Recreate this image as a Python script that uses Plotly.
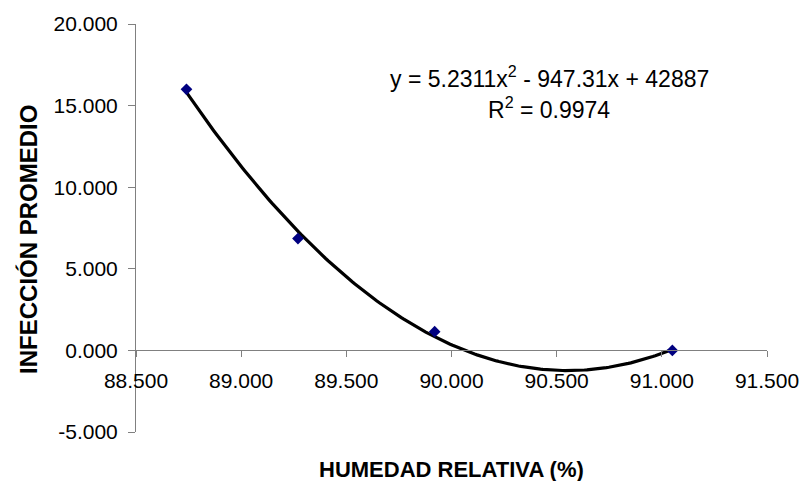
import numpy as np
import plotly.graph_objects as go

# Humedad relativa (%) vs. infección promedio
humedad = [88.74, 89.27, 89.92, 91.05]
infeccion = [16.0, 6.85, 1.15, 0.0]

x_ticks = [88.5, 89.0, 89.5, 90.0, 90.5, 91.0, 91.5]
y_ticks = [-5, 0, 5, 10, 15, 20]
x_ticktext = [f"{v:.3f}" for v in x_ticks]
y_ticktext = [f"{v:.3f}" for v in y_ticks]

eq_line1 = "y = 5.2311x<sup>2</sup> - 947.31x + 42887"
eq_line2 = "R<sup>2</sup> = 0.9974"

# Second-order polynomial trendline through the data
coef = np.polyfit(humedad, infeccion, 2)
xs = np.linspace(min(humedad), max(humedad), 200)
ys = np.polyval(coef, xs)

W, H = 811, 481
L, R, T, B = 136, 38, 20, 49
pw, ph = W - L - R, H - T - B


def px(xp):
    return (xp - L) / pw


def py(yp):
    return (H - B - yp) / ph


FONT = "Liberation Sans, Arial, sans-serif"


def label(text, xp, yp, size, angle=0):
    return dict(text=text, xref="paper", yref="paper",
                x=px(xp), y=py(yp), xanchor="center", yanchor="middle",
                showarrow=False, textangle=angle,
                font=dict(size=size, family=FONT, color="black"))


fig = go.Figure()
fig.add_trace(go.Scatter(x=xs, y=ys, mode="lines",
                         line=dict(color="black", width=3.2),
                         hoverinfo="skip", showlegend=False))
fig.add_trace(go.Scatter(x=humedad, y=infeccion, mode="markers",
                         marker=dict(symbol="diamond", size=9, color="#000080",
                                     line=dict(width=0)),
                         showlegend=False))

fig.update_layout(
    width=W, height=H,
    margin=dict(l=L, r=R, t=T, b=B),
    paper_bgcolor="white", plot_bgcolor="white",
    font=dict(family=FONT, color="black"),
    xaxis=dict(range=[88.5, 91.5], tickvals=x_ticks, ticktext=x_ticktext,
               anchor="free", position=0.2,
               showline=True, linecolor="#808080", linewidth=1,
               ticks="outside", ticklen=6, tickcolor="#808080",
               ticklabelstandoff=5,
               showgrid=False, zeroline=False,
               tickfont=dict(size=21, family=FONT, color="black")),
    yaxis=dict(range=[-5, 20], tickvals=y_ticks, ticktext=y_ticktext,
               domain=[0, 1],
               showline=True, linecolor="#808080", linewidth=1,
               ticks="outside", ticklen=7, tickcolor="#808080",
               ticklabelstandoff=6,
               showgrid=False, zeroline=False,
               tickfont=dict(size=21, family=FONT, color="black")),
    annotations=[
        label("<b>HUMEDAD RELATIVA (%)</b>", 455, 470, 22),
        label("<b>INFECCIÓN PROMEDIO</b>", 28, 238, 24, angle=-90),
        label(eq_line1, 553, 74, 23),
        label(eq_line2, 553, 105, 23),
    ],
)

fig.write_html("out.html")
